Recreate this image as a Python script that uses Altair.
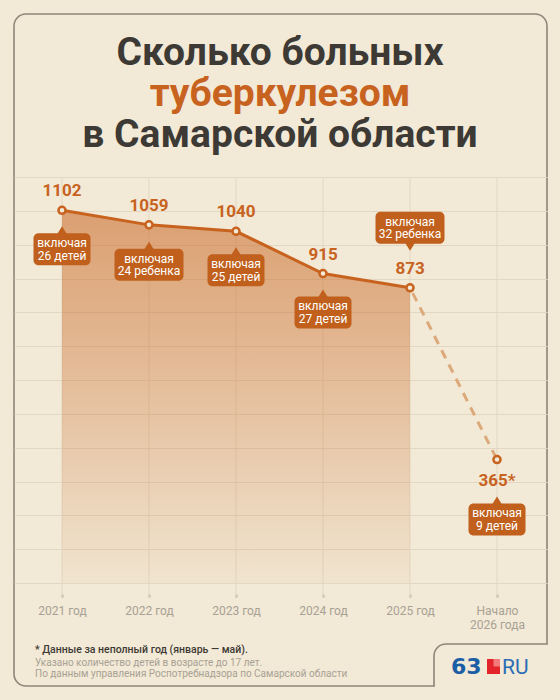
import altair as alt
import pandas as pd

# ---------------- data ----------------
years = [2021, 2022, 2023, 2024, 2025, 2026]
cases = [1102, 1059, 1040, 915, 873, 365]
case_labels = ["1102", "1059", "1040", "915", "873", "365*"]
children = ["26 детей", "24 ребенка", "25 детей", "27 детей", "32 ребенка", "9 детей"]
callout_prefix = "включая"
x_tick_labels = ["2021 год", "2022 год", "2023 год", "2024 год", "2025 год", "Начало|2026 года"]
grid_values = list(range(0, 1300, 100))

title_line1 = "Сколько больных"
title_line2 = "туберкулезом"
title_line3 = "в Самарской области"
note_line = "* Данные за неполный год (январь — май)."
footer_line1 = "Указано количество детей в возрасте до 17 лет."
footer_line2 = "По данным управления Роспотребнадзора по Самарской области"
logo_num = "63"
logo_ru = "RU"

# ---------------- styles ----------------
BG = "#f2e9d6"
GRID = "#e2d7c2"
ORANGE = "#c8631f"
DASH = "#dcaa7a"
BOX = "#c0601c"
DARK = "#3d3934"
GRAYTXT = "#a8a195"
BORDER = "#8e8579"
BW = 1.6
FONT = "Roboto"

# the view is the whole rounded panel
OX, OY = 14, 14
W, H = 533, 672
K = 418 / 1236                      # px per case
Y0 = 583 - OY                       # pixel row of value 0 inside the view
y_dom = [-(H - Y0) / K, Y0 / K]

df = pd.DataFrame({
    "year": years,
    "cases": cases,
    "label": case_labels,
    "kids": children,
})
df["callout"] = [callout_prefix + "|" + k for k in children]

lab = "''"
for yv, t in reversed(list(zip(years, x_tick_labels))):
    lab = f"datum.value == {yv} ? split('{t}', '|') : {lab}"

x_enc = alt.X(
    "year:Q",
    scale=alt.Scale(domain=[2021 - 48 / 87, 2026 + 50 / 87], nice=False, zero=False),
    axis=alt.Axis(
        values=years, labelExpr=lab, title=None, grid=False, domain=False,
        offset=-(686 - 595), tickSize=1, tickWidth=3, tickCap="round",
        tickColor="#d6ccb8", labelFont=FONT, labelFontSize=12, labelColor=GRAYTXT,
        labelPadding=9, labelLineHeight=14.5, labelBaseline="top",
    ),
)
y_enc = alt.Y(
    "cases:Q",
    scale=alt.Scale(domain=y_dom, nice=False, zero=False),
    axis=alt.Axis(values=grid_values, labels=False, ticks=False, domain=False,
                  grid=True, gridColor=GRID, gridWidth=1, title=None),
)

base = alt.Chart(df).encode(x=x_enc, y=y_enc)

vgrid = base.mark_rule(color=GRID, strokeWidth=1).encode(y=alt.datum(1200), y2=alt.datum(-36))

area = base.transform_filter("datum.year <= 2025").mark_area(
    color=alt.Gradient(
        gradient="linear",
        stops=[
            alt.GradientStop(color="rgba(200,99,31,0.55)", offset=0),
            alt.GradientStop(color="rgba(200,99,31,0.38)", offset=0.35),
            alt.GradientStop(color="rgba(200,99,31,0.04)", offset=1),
        ],
        x1=1, x2=1, y1=0, y2=1,
    )
).encode(y2=alt.datum(0))

line = base.transform_filter("datum.year <= 2025").mark_line(color=ORANGE, strokeWidth=3)
dash = base.transform_filter("datum.year >= 2025").mark_line(
    color=DASH, strokeWidth=3, strokeDash=[9, 7], strokeDashOffset=-6)
pts = base.mark_point(shape="circle", size=50, fill=BG, fillOpacity=1, stroke=ORANGE,
                      strokeWidth=2.5, opacity=1)

lab_above = base.transform_filter("datum.year <= 2025").mark_text(
    dy=-14, baseline="alphabetic", fontSize=17, fontWeight="bold", font=FONT, color=ORANGE
).encode(text="label:N")
lab_below = base.transform_filter("datum.year == 2026").mark_text(
    dy=26, baseline="alphabetic", fontSize=17, fontWeight="bold", font=FONT, color=ORANGE
).encode(text="label:N")

TRI_UP = "M-1,1L0,-0.6L1,1Z"
TRI_DOWN = "M-1,-1L0,0.6L1,-1Z"


def callout(flt, width, off):
    b = base.transform_filter(flt)
    box = b.mark_rect(width=width, height=32, cornerRadius=5, yOffset=off, color=BOX, opacity=1)
    if off > 0:
        ptr = b.mark_point(shape=TRI_UP, size=100, filled=True, color=BOX, opacity=1,
                           yOffset=off - 20, strokeWidth=0)
    else:
        ptr = b.mark_point(shape=TRI_DOWN, size=100, filled=True, color=BOX, opacity=1,
                           yOffset=off + 20, strokeWidth=0)
    txt = b.mark_text(lineBreak="|", align="center", baseline="middle", dy=off - 6.25,
                      lineHeight=12.5, fontSize=12, font=FONT, color="white").encode(text="callout:N")
    return [ptr, box, txt]


callouts = []
callouts += callout("datum.year <= 2024 && indexof(datum.kids, 'ребенка') < 0", 57, 39)
callouts += callout("datum.year <= 2024 && indexof(datum.kids, 'ребенка') >= 0", 69, 40)
callouts += callout("datum.year == 2025", 69, -60)
callouts += callout("datum.year == 2026", 57, 60)

# ---------------- decorations ----------------
one = pd.DataFrame({"k": [0]})


def text_at(s, x, y, **kw):
    return alt.Chart(one).mark_text(**kw).encode(
        x=alt.value(x - OX), y=alt.value(y - OY), text=alt.value(s))


def rect_at(x1, x2, y1, y2, **kw):
    return alt.Chart(one).mark_rect(**kw).encode(
        x=alt.value(x1 - OX), x2=alt.value(x2 - OX), y=alt.value(y1 - OY), y2=alt.value(y2 - OY))


NX, NY, B, R = 434, 644, 686, 547
notch = [
    rect_at(NX, 590, NY, 730, fill=BG, fillOpacity=1, stroke=BORDER, strokeWidth=BW,
            cornerRadiusTopLeft=12),
    rect_at(R + 0.9, 560, NY - 2, 700, fill=BG, fillOpacity=1, strokeWidth=0),
    rect_at(NX - 2, NX + 2, B + 0.9, 700, fill=BG, fillOpacity=1, strokeWidth=0),
]

titles = [
    text_at(title_line1, 280, 65, fontSize=39, fontWeight="bold", font=FONT, color=DARK,
            align="center", baseline="alphabetic"),
    text_at(title_line2, 280, 106, fontSize=39, fontWeight="bold", font=FONT, color=ORANGE,
            align="center", baseline="alphabetic"),
    text_at(title_line3, 280, 147, fontSize=39, fontWeight="bold", font=FONT, color=DARK,
            align="center", baseline="alphabetic"),
]

footer = [
    text_at(note_line, 35, 653, fontSize=10.5, fontWeight=500, font=FONT, color=DARK,
            align="left", baseline="alphabetic"),
    text_at(footer_line1, 35, 666, fontSize=10, font=FONT, color=GRAYTXT,
            align="left", baseline="alphabetic"),
    text_at(footer_line2, 35, 677, fontSize=10, font=FONT, color=GRAYTXT,
            align="left", baseline="alphabetic"),
]

logo = [
    text_at(logo_num, 451, 674, fontSize=22, fontWeight="bold", font="DejaVu Sans",
            color="#1b5ea6", align="left", baseline="alphabetic"),
    rect_at(487, 500, 659, 674, color="#e3242b"),
    rect_at(493.5, 500, 659, 666.5, color="#f27a7b"),
    text_at(logo_ru, 502, 674, fontSize=21, fontWeight="normal", font=FONT, color="#2a6db5",
            align="left", baseline="alphabetic"),
]

chart = alt.layer(
    vgrid, area, line, dash, *callouts, pts, lab_above, lab_below, *notch, *titles, *footer, *logo
).properties(
    width=W, height=H,
    autosize=alt.AutoSizeParams(type="none"),
    padding={"left": OX, "top": OY, "right": 560 - OX - W, "bottom": 700 - OY - H},
    background=BG,
).configure_view(stroke=BORDER, strokeWidth=BW, cornerRadius=12)

chart.save("out.html", embed_options={"renderer": "svg", "actions": False})
